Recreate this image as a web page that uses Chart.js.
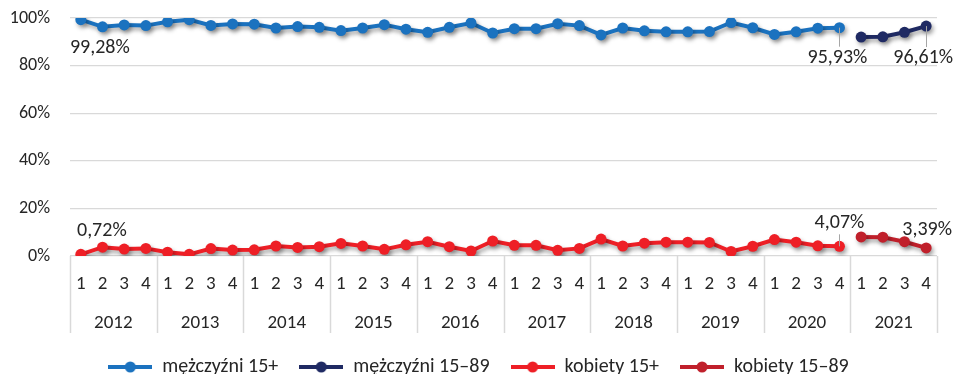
<!DOCTYPE html>
<html>
<head>
<meta charset="utf-8">
<script src="https://cdn.jsdelivr.net/npm/chart.js@4.4.1/dist/chart.umd.min.js"></script>
<style>
  html, body { margin: 0; padding: 0; background: #fff; }
  #wrap { width: 958px; height: 374px; }
</style>
</head>
<body>
<div id="wrap"><canvas id="chart"></canvas></div>
<script>
const years = ["2012", "2013", "2014", "2015", "2016", "2017", "2018", "2019", "2020", "2021"];
const quarters = ["1", "2", "3", "4"];

// udział w % (2012 Q1 - 2020 Q4 dla 15+, 2021 dla 15-89)
const men15plus = [
  99.28, 96.3, 97.1, 96.8, 98.4, 99.3, 96.9, 97.5, 97.4, 95.8, 96.4, 96.1,
  94.7, 95.8, 97.2, 95.3, 94.0, 96.1, 97.9, 93.7, 95.5, 95.5, 97.6, 96.8,
  92.9, 95.8, 94.6, 94.2, 94.2, 94.3, 98.1, 95.9, 93.1, 94.2, 95.7, 95.93,
  null, null, null, null
];
const men1589 = [
  null, null, null, null, null, null, null, null, null, null, null, null,
  null, null, null, null, null, null, null, null, null, null, null, null,
  null, null, null, null, null, null, null, null, null, null, null, null,
  92.0, 92.1, 94.0, 96.61
];
const women15plus = [
  0.72, 3.7, 2.9, 3.2, 1.6, 0.7, 3.1, 2.5, 2.6, 4.2, 3.6, 3.9,
  5.3, 4.2, 2.8, 4.7, 6.0, 3.9, 2.1, 6.3, 4.5, 4.5, 2.4, 3.2,
  7.1, 4.2, 5.4, 5.8, 5.8, 5.7, 1.9, 4.1, 6.9, 5.8, 4.3, 4.07,
  null, null, null, null
];
const women1589 = [
  null, null, null, null, null, null, null, null, null, null, null, null,
  null, null, null, null, null, null, null, null, null, null, null, null,
  null, null, null, null, null, null, null, null, null, null, null, null,
  8.0, 7.9, 6.0, 3.39
];

const seriesNames = ["mężczyźni 15+", "mężczyźni 15–89", "kobiety 15+", "kobiety 15–89"];
const seriesColors = ["#1B72BF", "#1F2A63", "#EE1F26", "#C0202B"];

// etykiety danych: [seria, indeks, tekst, dx, dy, linia odniesienia]
const dataLabels = [
  [0, 0, "99,28%", 19, 28, false],
  [2, 0, "0,72%", 21, -23, false],
  [0, 35, "95,93%", -2, 30, true],
  [1, 39, "96,61%", -3, 32, true],
  [2, 35, "4,07%", 0, -23, true],
  [3, 39, "3,39%", 1, -18, false]
];

const FONT = "Carlito, Calibri, Lato, sans-serif";
const TEXT = "#262626";

const labels = years.flatMap(() => quarters);

function legendIcon(color) {
  const c = document.createElement("canvas");
  c.width = 44;
  c.height = 12;
  const g = c.getContext("2d");
  g.strokeStyle = color;
  g.lineWidth = 4;
  g.beginPath();
  g.moveTo(0, 6);
  g.lineTo(44, 6);
  g.stroke();
  g.fillStyle = color;
  g.beginPath();
  g.arc(22, 6, 5.5, 0, Math.PI * 2);
  g.fill();
  return c;
}
const icons = seriesColors.map(legendIcon);

// cień pod liniami jak w Excelu
const shadowPlugin = {
  id: "shadow",
  beforeDatasetsDraw(chart) {
    const ctx = chart.ctx;
    ctx.save();
    ctx.shadowColor = "rgba(0,0,0,0.35)";
    ctx.shadowBlur = 4;
    ctx.shadowOffsetX = 2;
    ctx.shadowOffsetY = 3;
  },
  afterDatasetsDraw(chart) {
    chart.ctx.restore();
  }
};

// legenda: padding służy tylko jako odstęp między pozycjami
const legendHeight = {
  id: "legendHeight",
  beforeLayout(chart) {
    const lg = chart.legend;
    if (!lg || lg._fixed) return;
    const fit = lg.fit.bind(lg);
    lg.fit = function () {
      fit();
      this.height = 40;
    };
    lg._fixed = true;
  },
  afterLayout(chart) {
    const lg = chart.legend;
    if (!lg) return;
    lg.top += 2;
    lg.bottom += 2;
    lg.left += 10;
    lg.right += 10;
  }
};

// pionowe separatory lat pod osią
const yearDividers = {
  id: "yearDividers",
  afterDraw(chart) {
    const xs = chart.scales.x;
    const x2 = chart.scales.x2;
    const step = xs.getPixelForValue(1) - xs.getPixelForValue(0);
    const ctx = chart.ctx;
    ctx.save();
    ctx.strokeStyle = "#d9d9d9";
    ctx.lineWidth = 1.5;
    for (let i = 0; i <= years.length; i++) {
      const px = Math.round(xs.getPixelForValue(i * quarters.length) - step / 2) + 0.5;
      ctx.beginPath();
      ctx.moveTo(px, chart.chartArea.bottom);
      ctx.lineTo(px, x2.bottom - 1);
      ctx.stroke();
    }
    ctx.restore();
  }
};

const pointLabels = {
  id: "pointLabels",
  afterDatasetsDraw(chart) {
    const ctx = chart.ctx;
    ctx.save();
    ctx.font = "20px " + FONT;
    ctx.fillStyle = TEXT;
    ctx.textAlign = "center";
    ctx.textBaseline = "middle";
    dataLabels.forEach(([ds, idx, text, dx, dy, leader]) => {
      const pt = chart.getDatasetMeta(ds).data[idx];
      if (!pt) return;
      if (leader) {
        ctx.strokeStyle = "#a6a6a6";
        ctx.lineWidth = 1;
        ctx.beginPath();
        const dir = dy > 0 ? 1 : -1;
        ctx.moveTo(Math.round(pt.x) + 0.5, pt.y);
        ctx.lineTo(Math.round(pt.x) + 0.5, pt.y + dy - dir * 11);
        ctx.stroke();
      }
      ctx.fillText(text, pt.x + dx, pt.y + dy);
    });
    ctx.restore();
  }
};

const datasets = [men15plus, men1589, women15plus, women1589].map((values, i) => ({
  label: seriesNames[i],
  data: values,
  borderColor: seriesColors[i],
  backgroundColor: seriesColors[i],
  borderWidth: 4,
  pointRadius: 5.5,
  pointHoverRadius: 5.5,
  pointBorderWidth: 0,
  tension: 0,
  spanGaps: false,
  xAxisID: "x",
  yAxisID: "y"
}));

new Chart(document.getElementById("chart"), {
  type: "line",
  data: { labels, datasets },
  options: {
    responsive: true,
    maintainAspectRatio: false,
    animation: false,
    layout: { padding: { top: 18, right: 21, left: 0, bottom: 0 } },
    scales: {
      y: {
        min: 0,
        max: 100,
        ticks: {
          stepSize: 20,
          padding: 20,
          color: TEXT,
          font: { family: FONT, size: 18 },
          callback: (v) => v + "%"
        },
        grid: { color: "#d9d9d9", lineWidth: 1.2, drawTicks: false },
        border: { display: false },
        afterFit(scale) {
          scale.width = 70;
          scale.paddingTop = 0;
          scale.paddingBottom = 0;
        }
      },
      x: {
        type: "category",
        position: "bottom",
        offset: true,
        grid: { display: false, drawTicks: false },
        border: { display: false },
        ticks: {
          padding: 17,
          maxRotation: 0,
          autoSkip: false,
          color: TEXT,
          font: { family: FONT, size: 19 }
        },
        afterFit(scale) { scale.height = 40; }
      },
      x2: {
        type: "category",
        position: "bottom",
        labels: years,
        offset: true,
        grid: { display: false, drawTicks: false },
        border: { display: false },
        ticks: {
          padding: 16,
          maxRotation: 0,
          autoSkip: false,
          color: TEXT,
          font: { family: FONT, size: 19 }
        },
        afterFit(scale) { scale.height = 38; }
      }
    },
    plugins: {
      tooltip: { enabled: false },
      legend: {
        position: "bottom",
        labels: {
          usePointStyle: true,
          pointStyleWidth: 44,
          padding: 21,
          color: TEXT,
          font: { family: FONT, size: 20 },
          generateLabels(chart) {
            const items = Chart.defaults.plugins.legend.labels.generateLabels(chart);
            return items.map((it, i) => ({ ...it, pointStyle: icons[i] }));
          }
        }
      }
    }
  },
  plugins: [shadowPlugin, legendHeight, yearDividers, pointLabels]
});
</script>
</body>
</html>
